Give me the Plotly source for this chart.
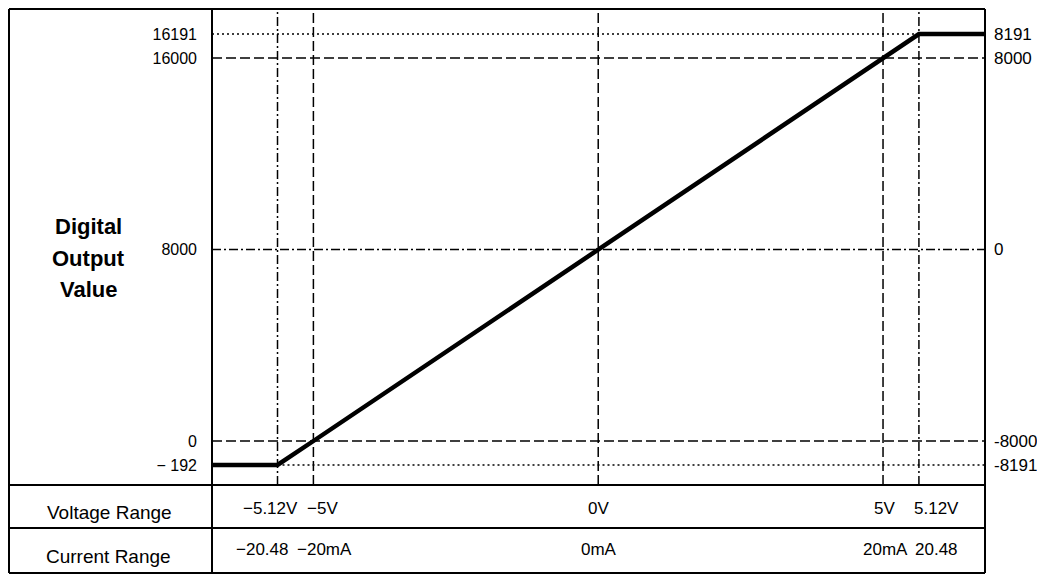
import numpy as np
import plotly.graph_objects as go

# ---------------- data ----------------
voltage_points = [-5.12, -5.0, 0.0, 5.0, 5.12]          # V
current_points = [-20.48, -20.0, 0.0, 20.0, 20.48]      # mA
digital_values = [-192, 0, 8000, 16000, 16191]          # left scale
digital_alt = [-8191, -8000, 0, 8000, 8191]             # right scale

left_tick_text = ["\u2212 192", "0", "8000", "16000", "16191"]
right_tick_text = ["-8191", "-8000", "0", "8000", "8191"]
voltage_labels = ["\u22125.12V", "\u22125V", "0V", "5V", "5.12V"]
current_labels = ["\u221220.48", "\u221220mA", "0mA", "20mA", "20.48"]

# ---------------- schematic (broken) scales ----------------
# the reference drawing exaggerates the over-range parts of both axes
X_TRUE = [-5.12, -5.0, 5.0, 5.12]
X_DISP = [-5.63, -5.0, 5.0, 5.63]
Y_TRUE = [-192, 0, 16000, 16191]
Y_DISP = [-1000, 0, 16000, 17000]


def sx(v):
    return np.interp(np.asarray(v, dtype=float), X_TRUE, X_DISP)


def sy(v):
    return np.interp(np.asarray(v, dtype=float), Y_TRUE, Y_DISP)


XR = [-6.78, 6.79]
YR = [-1838, 18089]

# page has an 8px body margin: figure is placed at (8, 8)
OFF = 8
W, H = 1045 - OFF, 575 - OFF
PLOT_L, PLOT_R, PLOT_T, PLOT_B = 212, 985, 8, 485      # page pixels
ML, MR, MT, MB = PLOT_L - OFF, W - (PLOT_R - OFF), PLOT_T - OFF, H - (PLOT_B - OFF)
PW_, PH_ = PLOT_R - PLOT_L, PLOT_B - PLOT_T


def PX(px):
    return (px - PLOT_L) / PW_


def PY(py):
    return (PLOT_B - py) / PH_


BLACK = "#000000"
FONT = "Liberation Sans, Arial, sans-serif"

fig = go.Figure()

# main transfer characteristic (saturates beyond the over-range points)
xs = [XR[0] - 1] + list(sx(voltage_points)) + [XR[1] + 1]
ys = [sy(digital_values[0])] + list(sy(digital_values)) + [sy(digital_values[-1])]
fig.add_trace(go.Scatter(x=xs, y=ys, mode="lines",
                         line=dict(color=BLACK, width=4.5),
                         hoverinfo="skip", showlegend=False))
# invisible trace for the right axis
fig.add_trace(go.Scatter(x=[0], y=[0], yaxis="y2", mode="markers",
                         marker=dict(opacity=0), hoverinfo="skip", showlegend=False))

DOT = "2px,3px"
DASH = "10px,4px"
DASHDOT = "9px,3px,2px,3px"
GW = 1.5

shapes = []
# horizontal guides
hx = [
    (digital_values[4], XR[0], float(sx(voltage_points[4])), DOT),
    (digital_values[3], XR[0], XR[1], DASH),
    (digital_values[2], XR[0], XR[1], DASHDOT),
    (digital_values[1], XR[0], XR[1], DASH),
    (digital_values[0], float(sx(voltage_points[0])), XR[1], DOT),
]
for val, x0, x1, d in hx:
    yy = float(sy(val))
    shapes.append(dict(type="line", xref="x", yref="y", x0=x0, x1=x1, y0=yy, y1=yy,
                       line=dict(color=BLACK, width=GW, dash=d), layer="below"))
# vertical guides
vstyles = [DASHDOT, DASH, DASH, DASH, DASHDOT]
for v, d in zip(voltage_points, vstyles):
    xx = float(sx(v))
    shapes.append(dict(type="line", xref="x", yref="paper", x0=xx, x1=xx, y0=0, y1=1,
                       line=dict(color=BLACK, width=GW, dash=d), layer="below"))

# frame & table
BW = 2


def hline(py, px0, px1):
    shapes.append(dict(type="line", xref="paper", yref="paper", x0=PX(px0), x1=PX(px1),
                       y0=PY(py), y1=PY(py), line=dict(color=BLACK, width=BW)))


def vline(px, py0, py1):
    shapes.append(dict(type="line", xref="paper", yref="paper", x0=PX(px), x1=PX(px),
                       y0=PY(py0), y1=PY(py1), line=dict(color=BLACK, width=BW)))


hline(9, 9, 985)
hline(485, 9, 985)
hline(528, 9, 985)
hline(573, 9, 985)
vline(9, 9, 573)
vline(212, 9, 573)
vline(985, 9, 573)

annotations = []


def ann(text, px, py, size, bold=False):
    t = f"<b>{text}</b>" if bold else text
    annotations.append(dict(text=t, x=PX(px), y=PY(py), xref="paper", yref="paper",
                            xanchor="center", yanchor="middle", showarrow=False,
                            font=dict(family=FONT, size=size, color=BLACK)))


ann("Digital", 89, 226, 22, bold=True)
ann("Output", 89, 258, 22, bold=True)
ann("Value", 89, 289, 22, bold=True)
ann("Voltage Range", 110, 512, 19)
ann("Current Range", 108, 556, 19)

# table labels placed under their guide lines
v_shift = [-7, 9, 0, 1, 18]
c_shift = [-16, 11, 1, 2, 18]
for v, lab, s in zip(voltage_points, voltage_labels, v_shift):
    annotations.append(dict(text=lab, x=float(sx(v)), xref="x", y=PY(508), yref="paper",
                            xshift=s, xanchor="center", yanchor="middle", showarrow=False,
                            font=dict(family=FONT, size=17, color=BLACK)))
for v, lab, s in zip(voltage_points, current_labels, c_shift):
    annotations.append(dict(text=lab, x=float(sx(v)), xref="x", y=PY(549), yref="paper",
                            xshift=s, xanchor="center", yanchor="middle", showarrow=False,
                            font=dict(family=FONT, size=17, color=BLACK)))

tickpos = [float(t) for t in sy(digital_values)]

fig.update_layout(
    width=W, height=H,
    margin=dict(l=ML, r=MR, t=MT, b=MB, pad=0),
    paper_bgcolor="white", plot_bgcolor="white",
    showlegend=False,
    xaxis=dict(range=XR, showgrid=False, zeroline=False, showline=False,
               showticklabels=False, ticks="", fixedrange=True),
    yaxis=dict(range=YR, showgrid=False, zeroline=False, showline=False,
               tickvals=tickpos, ticktext=left_tick_text, ticks="",
               ticklabelstandoff=14,
               tickfont=dict(family=FONT, size=16, color=BLACK)),
    yaxis2=dict(range=YR, overlaying="y", side="right", anchor="x",
                showgrid=False, zeroline=False, showline=False,
                tickvals=tickpos, ticktext=right_tick_text, ticks="",
                ticklabelstandoff=8,
                tickfont=dict(family=FONT, size=17, color=BLACK)),
    shapes=shapes,
    annotations=annotations,
)

fig.write_html("out.html")
